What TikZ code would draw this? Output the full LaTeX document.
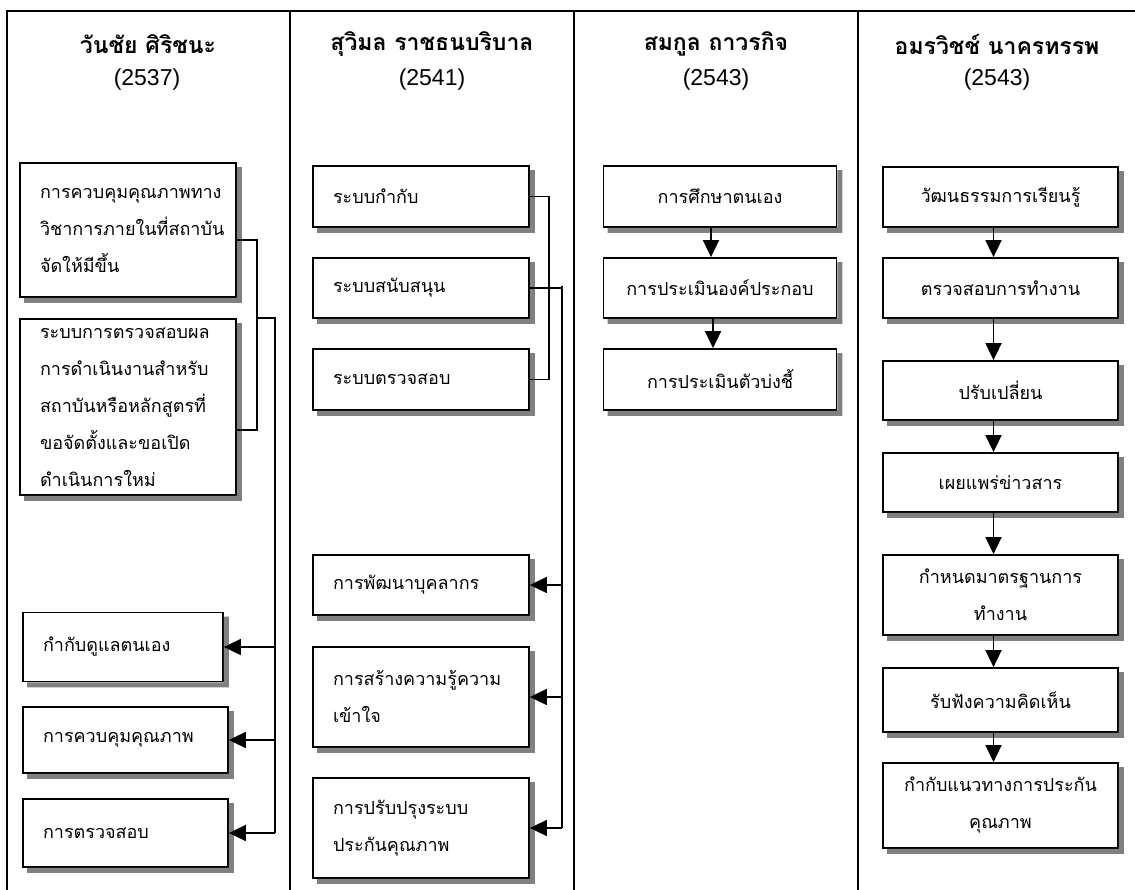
\documentclass[tikz,border=0pt]{standalone}
\usepackage{fontspec}
\setmainfont{Liberation Sans}
\newfontfamily\thaifont[Script=Thai]{Loma}
\usetikzlibrary{arrows.meta,positioning}

\tikzset{
    box/.style={draw,line width=1.8pt,fill=white,
        font=\thaifont\fontsize{18}{37}\selectfont,
        inner xsep=20pt,inner ysep=0pt,align=left},
    cbox/.style={box,align=center,inner xsep=8pt},
    boxshadow/.style={fill=black!50},
    link/.style={line width=1.8pt},
    arr/.style={link,-{Triangle[length=17pt,width=16pt]}},
    head/.style={font=\thaifont\bfseries\fontsize{23}{27}\selectfont},
    year/.style={font=\fontsize{23}{27}\selectfont}
}

\begin{document}
\begin{tikzpicture}[x=1pt,y=-1pt]
    \useasboundingbox (0,0) rectangle (1135,890);

    % table frame
    \draw[line width=2.4pt] (7,890) -- (7,11) -- (1135,11);
    \draw[line width=2.4pt] (290,11) -- (290,890);
    \draw[line width=2.4pt] (574,11) -- (574,890);
    \draw[line width=2.4pt] (858,11) -- (858,890);

    % headings
    \node[head] (n1) at (148,44) {วันชัย ศิริชนะ};
    \node[year] (y1) at (147,80) {(2537)};
    \node[head] (n2) at (432,44) {สุวิมล ราชธนบริบาล};
    \node[year] (y2) at (432,80) {(2541)};
    \node[head] (n3) at (716,44) {สมกูล ถาวรกิจ};
    \node[year] (y3) at (716,80) {(2543)};
    \node[head] (n4) at (997,44) {อมรวิชช์ นาครทรรพ};
    \node[year] (y4) at (997,80) {(2543)};

    % column 1
    \node[box,text width=176pt,minimum height=134pt] (A1) at (128,230)
        {การควบคุมคุณภาพทาง\\วิชาการภายในที่สถาบัน\\จัดให้มีขึ้น};
    \node[box,text width=176pt,minimum height=176pt] (A2) at (128,407)
        {ระบบการตรวจสอบผล\\การดำเนินงานสำหรับ\\สถาบันหรือหลักสูตรที่\\ขอจัดตั้งและขอเปิด\\ดำเนินการใหม่};
    \node[box,text width=160pt,minimum height=69pt] (A3) at (123,647) {กำกับดูแลตนเอง};
    \node[box,text width=165pt,minimum height=66pt] (A4) at (125.5,740) {การควบคุมคุณภาพ};
    \node[box,text width=165pt,minimum height=68pt] (A5) at (125.5,833) {การตรวจสอบ};

    % column 2
    \node[box,text width=176pt,minimum height=61pt] (B1) at (421,196.5) {ระบบกำกับ};
    \node[box,text width=176pt,minimum height=60pt] (B2) at (421,288) {ระบบสนับสนุน};
    \node[box,text width=176pt,minimum height=61pt] (B3) at (421,379.5) {ระบบตรวจสอบ};
    \node[box,text width=176pt,minimum height=60pt] (B4) at (421,585) {การพัฒนาบุคลากร};
    \node[box,text width=176pt,minimum height=100pt] (B5) at (421,697) {การสร้างความรู้ความ\\เข้าใจ};
    \node[box,text width=176pt,minimum height=100pt] (B6) at (421,828) {การปรับปรุงระบบ\\ประกันคุณภาพ};

    % column 3
    \node[cbox,text width=217pt,minimum height=61pt] (C1) at (720,196.5) {การศึกษาตนเอง};
    \node[cbox,text width=217pt,minimum height=60pt] (C2) at (720,288) {การประเมินองค์ประกอบ};
    \node[cbox,text width=217pt,minimum height=61pt] (C3) at (720,379.5) {การประเมินตัวบ่งชี้};

    % column 4
    \node[cbox,text width=219pt,minimum height=60pt] (D1) at (1000.5,197) {วัฒนธรรมการเรียนรู้};
    \node[cbox,text width=219pt,minimum height=60pt] (D2) at (1000.5,288) {ตรวจสอบการทำงาน};
    \node[cbox,text width=219pt,minimum height=59pt] (D3) at (1000.5,390.5) {ปรับเปลี่ยน};
    \node[cbox,text width=219pt,minimum height=59pt] (D4) at (1000.5,482.5) {เผยแพร่ข่าวสาร};
    \node[cbox,text width=219pt,minimum height=80pt] (D5) at (1000.5,595) {กำหนดมาตรฐานการ\\ทำงาน};
    \node[cbox,text width=219pt,minimum height=64pt] (D6) at (1000.5,700) {รับฟังความคิดเห็น};
    \node[cbox,text width=219pt,minimum height=85pt] (D7) at (1000.5,805.5) {กำกับแนวทางการประกัน\\คุณภาพ};

    % grey shadow band along the right and bottom side of every box
    \foreach \nd in {A1,A2,A3,A4,A5,B1,B2,B3,B4,B5,B6,C1,C2,C3,D1,D2,D3,D4,D5,D6,D7}
        \fill[boxshadow] ([shift={(5pt,-5pt)}]\nd.north east) -- ([shift={(5pt,-5pt)}]\nd.south east)
            -- ([shift={(5pt,-5pt)}]\nd.south west) -- ([xshift=5pt]\nd.south west)
            -- (\nd.south east) -- ([yshift=-5pt]\nd.north east) -- cycle;

    % connectors, column 1
    \coordinate (jA) at (257,318);
    \coordinate (kA) at (275,318);
    \draw[link] ([yshift=-10pt]A1.east) -| (jA) |- ([yshift=-23pt]A2.east);
    \draw[link] (jA) -- (kA) -- (kA |- A5.east);
    \draw[arr] (kA |- A3.east) -- (A3.east);
    \draw[arr] (kA |- A4.east) -- (A4.east);
    \draw[arr] (kA |- A5.east) -- (A5.east);

    % connectors, column 2
    \coordinate (jB) at (549,199);
    \coordinate (kB) at (562,286);
    \draw[link] (B1.east) -| (jB) |- (B3.east);
    \draw[link] (B2.east) -| (kB) -- (kB |- B6.east);
    \draw[arr] (kB |- B4.east) -- (B4.east);
    \draw[arr] (kB |- B5.east) -- (B5.east);
    \draw[arr] (kB |- B6.east) -- (B6.east);

    % connectors, column 3
    \draw[arr] ([xshift=-9pt]C1.south) -- ([xshift=-9pt]C2.north);
    \draw[arr] ([xshift=-7pt]C2.south) -- ([xshift=-7pt]C3.north);

    % connectors, column 4
    \draw[arr] ([xshift=-7pt]D1.south) -- ([xshift=-7pt]D2.north);
    \draw[arr] ([xshift=-7pt]D2.south) -- ([xshift=-7pt]D3.north);
    \draw[arr] ([xshift=-7pt]D3.south) -- ([xshift=-7pt]D4.north);
    \draw[arr] ([xshift=-7pt]D4.south) -- ([xshift=-7pt]D5.north);
    \draw[arr] ([xshift=-7pt]D5.south) -- ([xshift=-7pt]D6.north);
    \draw[arr] ([xshift=-7pt]D6.south) -- ([xshift=-7pt]D7.north);
\end{tikzpicture}
\end{document}
